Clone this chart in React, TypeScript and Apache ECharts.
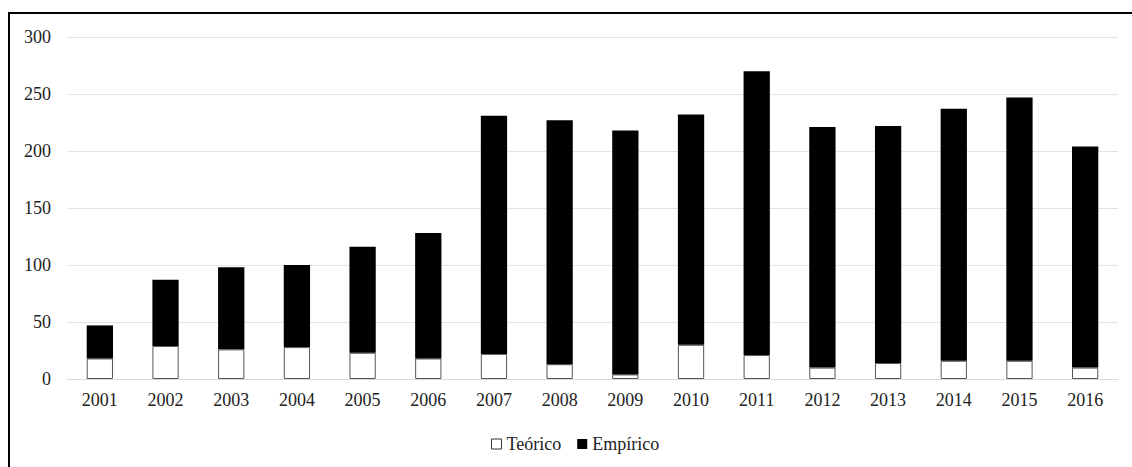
import React, { useEffect, useRef } from "react";
import * as echarts from "echarts";

const years = ["2001","2002","2003","2004","2005","2006","2007","2008","2009","2010","2011","2012","2013","2014","2015","2016"];
const teorico = [18, 29, 26, 28, 23, 18, 22, 13, 4, 30, 21, 10, 14, 16, 16, 10];
const empirico = [29, 58, 72, 72, 93, 110, 209, 214, 214, 202, 249, 211, 208, 221, 231, 194];
const yTicks = { min: 0, max: 300, interval: 50 };

const FONT = "Liberation Serif";

export default function App() {
  const ref = useRef<HTMLDivElement>(null);
  useEffect(() => {
    if (!ref.current) return;
    const chart = echarts.init(ref.current, null, { renderer: "svg" });
    chart.setOption({
      animation: false,
      backgroundColor: "transparent",
      textStyle: { fontFamily: FONT },
      grid: { left: 67, right: 14, top: 37, bottom: 88, containLabel: false },
      legend: {
        left: 491,
        top: 435,
        padding: 0,
        itemWidth: 10,
        itemHeight: 10,
        itemGap: 16,
        icon: "rect",
        textStyle: { fontFamily: FONT, fontSize: 18, color: "#222", padding: [0, 0, 0, 0] },
        data: [
          { name: "Teórico", itemStyle: { color: "#fff", borderColor: "#333", borderWidth: 1 } },
          { name: "Empírico", itemStyle: { color: "#000" } },
        ],
      },
      xAxis: {
        type: "category",
        data: years,
        axisLine: { show: true, lineStyle: { color: "#d9d9d9", width: 1 } },
        axisTick: { show: false },
        axisLabel: { fontFamily: FONT, fontSize: 18, color: "#222", margin: 12 },
      },
      yAxis: {
        type: "value",
        min: yTicks.min,
        max: yTicks.max,
        interval: yTicks.interval,
        axisLine: { show: false },
        axisTick: { show: false },
        splitLine: { lineStyle: { color: "#e3e3e3", width: 1 } },
        axisLabel: { fontFamily: FONT, fontSize: 18, color: "#222", margin: 16 },
      },
      series: [
        {
          name: "Teórico",
          type: "bar",
          stack: "total",
          barWidth: "40%",
          data: teorico,
          itemStyle: { color: "#ffffff", borderColor: "#555", borderWidth: 1 },
        },
        {
          name: "Empírico",
          type: "bar",
          stack: "total",
          barWidth: "40%",
          data: empirico,
          itemStyle: { color: "#000000" },
        },
      ],
    });
    return () => chart.dispose();
  }, []);

  return (
    <div style={{ position: "fixed", left: 0, top: 0, width: 1132, height: 467, background: "#fff", overflow: "hidden" }}>
      <div
        style={{
          position: "absolute",
          left: 8,
          top: 12,
          width: 1200,
          height: 500,
          borderTop: "2px solid #000",
          borderLeft: "2px solid #000",
        }}
      />
      <div ref={ref} style={{ position: "absolute", left: 0, top: 0, width: 1132, height: 467 }} />
    </div>
  );
}
